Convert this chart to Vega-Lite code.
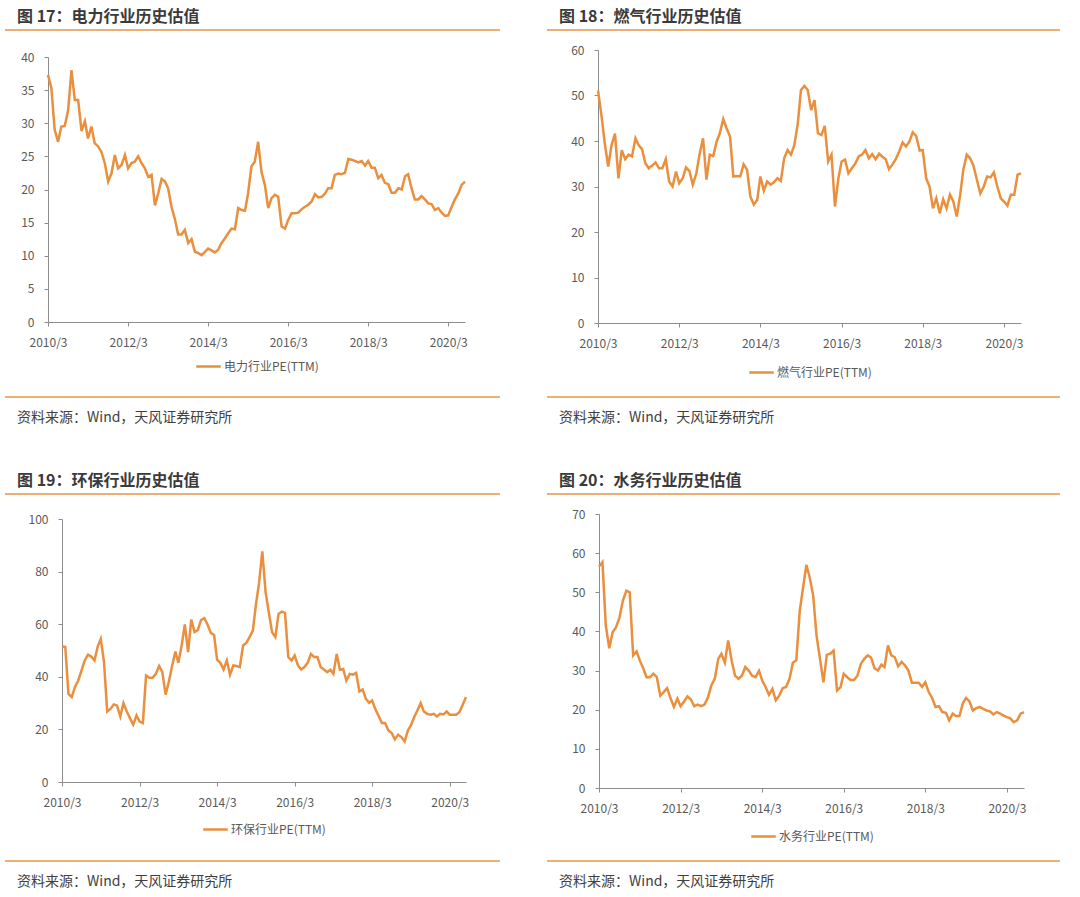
{
"$schema": "https://vega.github.io/schema/vega-lite/v6.json",
"background": "#ffffff",
"padding": {"left": 4, "top": 9, "right": 2, "bottom": 4},
"config": {
 "view": {"stroke": null},
 "font": "Noto Sans CJK SC",
 "axis": {"grid": false, "labelFont": "Noto Sans CJK SC", "labelFontSize": 12, "labelColor": "#595959", "domainColor": "#8c8c8c", "tickColor": "#8c8c8c", "tickSize": 4},
 "legend": {"orient": "bottom", "direction": "horizontal", "symbolType": "stroke", "symbolStrokeWidth": 2.5, "symbolSize": 600, "labelFont": "Noto Sans CJK SC", "labelFontSize": 12, "labelColor": "#595959", "padding": 0, "labelOffset": 2, "layout": {"bottom": {"anchor": "middle"}}},
 "title": {"anchor": "start", "frame": "group", "font": "Noto Sans CJK SC", "color": "#3a3a3a"}
},
"datasets": {
"power": [
{"month":"2010-03","pe":37.3},{"month":"2010-04","pe":35.3},{"month":"2010-05","pe":29.0},{"month":"2010-06","pe":27.2},{"month":"2010-07","pe":29.5},{"month":"2010-08","pe":29.6},{"month":"2010-09","pe":32.0},{"month":"2010-10","pe":38.0},{"month":"2010-11","pe":33.5},{"month":"2010-12","pe":33.5},
{"month":"2011-01","pe":28.8},{"month":"2011-02","pe":30.3},{"month":"2011-03","pe":27.7},{"month":"2011-04","pe":29.5},{"month":"2011-05","pe":27.0},{"month":"2011-06","pe":26.5},{"month":"2011-07","pe":25.7},{"month":"2011-08","pe":24.0},{"month":"2011-09","pe":21.2},{"month":"2011-10","pe":22.4},{"month":"2011-11","pe":25.2},{"month":"2011-12","pe":23.2},
{"month":"2012-01","pe":23.7},{"month":"2012-02","pe":25.2},{"month":"2012-03","pe":23.2},{"month":"2012-04","pe":24.0},{"month":"2012-05","pe":24.2},{"month":"2012-06","pe":25.0},{"month":"2012-07","pe":24.0},{"month":"2012-08","pe":23.2},{"month":"2012-09","pe":21.9},{"month":"2012-10","pe":22.2},{"month":"2012-11","pe":17.6},{"month":"2012-12","pe":19.4},
{"month":"2013-01","pe":21.6},{"month":"2013-02","pe":21.2},{"month":"2013-03","pe":20.2},{"month":"2013-04","pe":17.4},{"month":"2013-05","pe":15.6},{"month":"2013-06","pe":13.2},{"month":"2013-07","pe":13.2},{"month":"2013-08","pe":13.9},{"month":"2013-09","pe":11.9},{"month":"2013-10","pe":12.5},{"month":"2013-11","pe":10.6},{"month":"2013-12","pe":10.4},
{"month":"2014-01","pe":10.1},{"month":"2014-02","pe":10.6},{"month":"2014-03","pe":11.1},{"month":"2014-04","pe":10.8},{"month":"2014-05","pe":10.5},{"month":"2014-06","pe":10.9},{"month":"2014-07","pe":11.9},{"month":"2014-08","pe":12.6},{"month":"2014-09","pe":13.4},{"month":"2014-10","pe":14.1},{"month":"2014-11","pe":14.0},{"month":"2014-12","pe":17.2},
{"month":"2015-01","pe":16.9},{"month":"2015-02","pe":16.8},{"month":"2015-03","pe":19.4},{"month":"2015-04","pe":23.5},{"month":"2015-05","pe":24.2},{"month":"2015-06","pe":27.2},{"month":"2015-07","pe":22.7},{"month":"2015-08","pe":20.7},{"month":"2015-09","pe":17.2},{"month":"2015-10","pe":18.7},{"month":"2015-11","pe":19.2},{"month":"2015-12","pe":18.9},
{"month":"2016-01","pe":14.4},{"month":"2016-02","pe":14.1},{"month":"2016-03","pe":15.4},{"month":"2016-04","pe":16.4},{"month":"2016-05","pe":16.4},{"month":"2016-06","pe":16.5},{"month":"2016-07","pe":17.0},{"month":"2016-08","pe":17.4},{"month":"2016-09","pe":17.7},{"month":"2016-10","pe":18.2},{"month":"2016-11","pe":19.3},{"month":"2016-12","pe":18.8},
{"month":"2017-01","pe":18.9},{"month":"2017-02","pe":19.4},{"month":"2017-03","pe":20.2},{"month":"2017-04","pe":20.2},{"month":"2017-05","pe":22.2},{"month":"2017-06","pe":22.4},{"month":"2017-07","pe":22.3},{"month":"2017-08","pe":22.5},{"month":"2017-09","pe":24.6},{"month":"2017-10","pe":24.5},{"month":"2017-11","pe":24.3},{"month":"2017-12","pe":24.1},
{"month":"2018-01","pe":24.3},{"month":"2018-02","pe":23.6},{"month":"2018-03","pe":24.3},{"month":"2018-04","pe":23.3},{"month":"2018-05","pe":23.3},{"month":"2018-06","pe":21.7},{"month":"2018-07","pe":22.2},{"month":"2018-08","pe":21.0},{"month":"2018-09","pe":20.8},{"month":"2018-10","pe":19.5},{"month":"2018-11","pe":19.5},{"month":"2018-12","pe":20.2},
{"month":"2019-01","pe":20.0},{"month":"2019-02","pe":22.0},{"month":"2019-03","pe":22.3},{"month":"2019-04","pe":20.2},{"month":"2019-05","pe":18.5},{"month":"2019-06","pe":18.5},{"month":"2019-07","pe":19.0},{"month":"2019-08","pe":18.5},{"month":"2019-09","pe":17.9},{"month":"2019-10","pe":17.8},{"month":"2019-11","pe":16.9},{"month":"2019-12","pe":17.2},
{"month":"2020-01","pe":16.5},{"month":"2020-02","pe":16.0},{"month":"2020-03","pe":16.1},{"month":"2020-04","pe":17.4},{"month":"2020-05","pe":18.5},{"month":"2020-06","pe":19.4},{"month":"2020-07","pe":20.7},{"month":"2020-08","pe":21.2}
],
"gas": [
{"month":"2010-03","pe":51.1},{"month":"2010-04","pe":45.7},{"month":"2010-05","pe":39.5},{"month":"2010-06","pe":34.4},{"month":"2010-07","pe":39.1},{"month":"2010-08","pe":41.6},{"month":"2010-09","pe":31.8},{"month":"2010-10","pe":38.0},{"month":"2010-11","pe":36.0},{"month":"2010-12","pe":37.0},
{"month":"2011-01","pe":36.6},{"month":"2011-02","pe":40.6},{"month":"2011-03","pe":39.1},{"month":"2011-04","pe":38.2},{"month":"2011-05","pe":35.1},{"month":"2011-06","pe":34.0},{"month":"2011-07","pe":34.6},{"month":"2011-08","pe":35.3},{"month":"2011-09","pe":34.0},{"month":"2011-10","pe":34.0},{"month":"2011-11","pe":36.0},{"month":"2011-12","pe":31.1},
{"month":"2012-01","pe":30.0},{"month":"2012-02","pe":33.3},{"month":"2012-03","pe":30.7},{"month":"2012-04","pe":31.8},{"month":"2012-05","pe":34.2},{"month":"2012-06","pe":33.4},{"month":"2012-07","pe":30.4},{"month":"2012-08","pe":32.8},{"month":"2012-09","pe":37.2},{"month":"2012-10","pe":40.6},{"month":"2012-11","pe":31.5},{"month":"2012-12","pe":37.0},
{"month":"2013-01","pe":36.7},{"month":"2013-02","pe":39.9},{"month":"2013-03","pe":41.7},{"month":"2013-04","pe":44.8},{"month":"2013-05","pe":42.8},{"month":"2013-06","pe":41.0},{"month":"2013-07","pe":32.2},{"month":"2013-08","pe":32.3},{"month":"2013-09","pe":32.2},{"month":"2013-10","pe":34.9},{"month":"2013-11","pe":33.7},{"month":"2013-12","pe":27.8},
{"month":"2014-01","pe":26.0},{"month":"2014-02","pe":27.1},{"month":"2014-03","pe":32.2},{"month":"2014-04","pe":29.1},{"month":"2014-05","pe":31.1},{"month":"2014-06","pe":30.4},{"month":"2014-07","pe":30.9},{"month":"2014-08","pe":31.8},{"month":"2014-09","pe":31.2},{"month":"2014-10","pe":36.2},{"month":"2014-11","pe":38.0},{"month":"2014-12","pe":37.0},
{"month":"2015-01","pe":39.1},{"month":"2015-02","pe":43.9},{"month":"2015-03","pe":51.2},{"month":"2015-04","pe":52.1},{"month":"2015-05","pe":51.2},{"month":"2015-06","pe":46.8},{"month":"2015-07","pe":49.0},{"month":"2015-08","pe":41.7},{"month":"2015-09","pe":41.3},{"month":"2015-10","pe":43.3},{"month":"2015-11","pe":35.5},{"month":"2015-12","pe":37.0},
{"month":"2016-01","pe":25.6},{"month":"2016-02","pe":31.8},{"month":"2016-03","pe":35.5},{"month":"2016-04","pe":35.9},{"month":"2016-05","pe":32.9},{"month":"2016-06","pe":34.0},{"month":"2016-07","pe":35.0},{"month":"2016-08","pe":36.6},{"month":"2016-09","pe":37.0},{"month":"2016-10","pe":38.0},{"month":"2016-11","pe":36.2},{"month":"2016-12","pe":37.1},
{"month":"2017-01","pe":36.0},{"month":"2017-02","pe":37.2},{"month":"2017-03","pe":36.6},{"month":"2017-04","pe":36.0},{"month":"2017-05","pe":33.8},{"month":"2017-06","pe":34.8},{"month":"2017-07","pe":36.0},{"month":"2017-08","pe":37.7},{"month":"2017-09","pe":39.7},{"month":"2017-10","pe":38.8},{"month":"2017-11","pe":39.9},{"month":"2017-12","pe":41.9},
{"month":"2018-01","pe":41.1},{"month":"2018-02","pe":37.9},{"month":"2018-03","pe":38.0},{"month":"2018-04","pe":31.8},{"month":"2018-05","pe":30.0},{"month":"2018-06","pe":25.2},{"month":"2018-07","pe":27.4},{"month":"2018-08","pe":24.1},{"month":"2018-09","pe":27.2},{"month":"2018-10","pe":25.2},{"month":"2018-11","pe":28.2},{"month":"2018-12","pe":26.7},
{"month":"2019-01","pe":23.4},{"month":"2019-02","pe":28.2},{"month":"2019-03","pe":33.7},{"month":"2019-04","pe":37.0},{"month":"2019-05","pe":36.2},{"month":"2019-06","pe":34.5},{"month":"2019-07","pe":31.5},{"month":"2019-08","pe":28.5},{"month":"2019-09","pe":30.0},{"month":"2019-10","pe":32.2},{"month":"2019-11","pe":32.0},{"month":"2019-12","pe":33.1},
{"month":"2020-01","pe":30.0},{"month":"2020-02","pe":27.4},{"month":"2020-03","pe":26.7},{"month":"2020-04","pe":25.8},{"month":"2020-05","pe":28.2},{"month":"2020-06","pe":28.2},{"month":"2020-07","pe":32.6},{"month":"2020-08","pe":32.9}
],
"env": [
{"month":"2010-03","pe":51.6},{"month":"2010-04","pe":51.3},{"month":"2010-05","pe":33.5},{"month":"2010-06","pe":32.3},{"month":"2010-07","pe":36.1},{"month":"2010-08","pe":38.6},{"month":"2010-09","pe":42.4},{"month":"2010-10","pe":46.2},{"month":"2010-11","pe":48.4},{"month":"2010-12","pe":47.7},
{"month":"2011-01","pe":46.2},{"month":"2011-02","pe":51.6},{"month":"2011-03","pe":54.4},{"month":"2011-04","pe":45.6},{"month":"2011-05","pe":26.8},{"month":"2011-06","pe":27.8},{"month":"2011-07","pe":29.5},{"month":"2011-08","pe":29.1},{"month":"2011-09","pe":24.9},{"month":"2011-10","pe":30.0},{"month":"2011-11","pe":26.8},{"month":"2011-12","pe":24.3},
{"month":"2012-01","pe":21.8},{"month":"2012-02","pe":25.3},{"month":"2012-03","pe":23.0},{"month":"2012-04","pe":22.4},{"month":"2012-05","pe":40.5},{"month":"2012-06","pe":39.6},{"month":"2012-07","pe":39.6},{"month":"2012-08","pe":41.1},{"month":"2012-09","pe":44.1},{"month":"2012-10","pe":41.8},{"month":"2012-11","pe":33.2},{"month":"2012-12","pe":38.0},
{"month":"2013-01","pe":44.1},{"month":"2013-02","pe":49.6},{"month":"2013-03","pe":45.3},{"month":"2013-04","pe":51.9},{"month":"2013-05","pe":59.9},{"month":"2013-06","pe":49.4},{"month":"2013-07","pe":61.8},{"month":"2013-08","pe":57.0},{"month":"2013-09","pe":57.8},{"month":"2013-10","pe":61.6},{"month":"2013-11","pe":62.3},{"month":"2013-12","pe":59.9},
{"month":"2014-01","pe":56.7},{"month":"2014-02","pe":55.9},{"month":"2014-03","pe":46.5},{"month":"2014-04","pe":45.3},{"month":"2014-05","pe":42.8},{"month":"2014-06","pe":46.2},{"month":"2014-07","pe":40.8},{"month":"2014-08","pe":44.3},{"month":"2014-09","pe":44.1},{"month":"2014-10","pe":43.7},{"month":"2014-11","pe":51.9},{"month":"2014-12","pe":52.9},
{"month":"2015-01","pe":55.1},{"month":"2015-02","pe":57.6},{"month":"2015-03","pe":67.1},{"month":"2015-04","pe":75.9},{"month":"2015-05","pe":87.7},{"month":"2015-06","pe":72.2},{"month":"2015-07","pe":64.6},{"month":"2015-08","pe":57.0},{"month":"2015-09","pe":55.1},{"month":"2015-10","pe":63.9},{"month":"2015-11","pe":64.8},{"month":"2015-12","pe":64.3},
{"month":"2016-01","pe":47.5},{"month":"2016-02","pe":46.2},{"month":"2016-03","pe":48.1},{"month":"2016-04","pe":44.3},{"month":"2016-05","pe":42.8},{"month":"2016-06","pe":43.7},{"month":"2016-07","pe":45.3},{"month":"2016-08","pe":48.7},{"month":"2016-09","pe":47.5},{"month":"2016-10","pe":47.5},{"month":"2016-11","pe":43.7},{"month":"2016-12","pe":42.8},
{"month":"2017-01","pe":41.8},{"month":"2017-02","pe":42.7},{"month":"2017-03","pe":41.1},{"month":"2017-04","pe":48.7},{"month":"2017-05","pe":42.7},{"month":"2017-06","pe":43.0},{"month":"2017-07","pe":38.6},{"month":"2017-08","pe":41.1},{"month":"2017-09","pe":40.8},{"month":"2017-10","pe":41.5},{"month":"2017-11","pe":34.4},{"month":"2017-12","pe":35.2},
{"month":"2018-01","pe":31.6},{"month":"2018-02","pe":30.1},{"month":"2018-03","pe":31.0},{"month":"2018-04","pe":27.6},{"month":"2018-05","pe":25.1},{"month":"2018-06","pe":22.4},{"month":"2018-07","pe":22.4},{"month":"2018-08","pe":19.6},{"month":"2018-09","pe":18.6},{"month":"2018-10","pe":16.2},{"month":"2018-11","pe":18.0},{"month":"2018-12","pe":17.1},
{"month":"2019-01","pe":15.4},{"month":"2019-02","pe":19.6},{"month":"2019-03","pe":21.5},{"month":"2019-04","pe":24.7},{"month":"2019-05","pe":27.2},{"month":"2019-06","pe":30.0},{"month":"2019-07","pe":26.8},{"month":"2019-08","pe":25.9},{"month":"2019-09","pe":25.6},{"month":"2019-10","pe":25.9},{"month":"2019-11","pe":24.9},{"month":"2019-12","pe":25.9},
{"month":"2020-01","pe":25.7},{"month":"2020-02","pe":26.8},{"month":"2020-03","pe":25.6},{"month":"2020-04","pe":25.6},{"month":"2020-05","pe":25.6},{"month":"2020-06","pe":26.6},{"month":"2020-07","pe":29.4},{"month":"2020-08","pe":32.3}
],
"water": [
{"month":"2010-03","pe":56.6},{"month":"2010-04","pe":57.7},{"month":"2010-05","pe":41.5},{"month":"2010-06","pe":35.7},{"month":"2010-07","pe":39.8},{"month":"2010-08","pe":41.1},{"month":"2010-09","pe":43.6},{"month":"2010-10","pe":47.9},{"month":"2010-11","pe":50.4},{"month":"2010-12","pe":50.0},
{"month":"2011-01","pe":33.9},{"month":"2011-02","pe":34.9},{"month":"2011-03","pe":32.6},{"month":"2011-04","pe":30.6},{"month":"2011-05","pe":28.3},{"month":"2011-06","pe":28.3},{"month":"2011-07","pe":29.2},{"month":"2011-08","pe":28.3},{"month":"2011-09","pe":23.6},{"month":"2011-10","pe":24.5},{"month":"2011-11","pe":25.5},{"month":"2011-12","pe":23.0},
{"month":"2012-01","pe":20.7},{"month":"2012-02","pe":22.8},{"month":"2012-03","pe":20.9},{"month":"2012-04","pe":22.1},{"month":"2012-05","pe":23.4},{"month":"2012-06","pe":22.6},{"month":"2012-07","pe":20.9},{"month":"2012-08","pe":21.3},{"month":"2012-09","pe":20.9},{"month":"2012-10","pe":21.3},{"month":"2012-11","pe":23.2},{"month":"2012-12","pe":26.2},
{"month":"2013-01","pe":27.9},{"month":"2013-02","pe":33.0},{"month":"2013-03","pe":34.3},{"month":"2013-04","pe":32.0},{"month":"2013-05","pe":37.7},{"month":"2013-06","pe":32.6},{"month":"2013-07","pe":28.7},{"month":"2013-08","pe":27.9},{"month":"2013-09","pe":28.7},{"month":"2013-10","pe":30.9},{"month":"2013-11","pe":30.0},{"month":"2013-12","pe":28.7},
{"month":"2014-01","pe":28.3},{"month":"2014-02","pe":29.9},{"month":"2014-03","pe":27.5},{"month":"2014-04","pe":25.8},{"month":"2014-05","pe":23.8},{"month":"2014-06","pe":25.3},{"month":"2014-07","pe":22.4},{"month":"2014-08","pe":23.6},{"month":"2014-09","pe":25.5},{"month":"2014-10","pe":25.8},{"month":"2014-11","pe":27.9},{"month":"2014-12","pe":32.0},
{"month":"2015-01","pe":32.6},{"month":"2015-02","pe":45.3},{"month":"2015-03","pe":50.9},{"month":"2015-04","pe":57.0},{"month":"2015-05","pe":53.8},{"month":"2015-06","pe":49.2},{"month":"2015-07","pe":39.0},{"month":"2015-08","pe":33.0},{"month":"2015-09","pe":27.0},{"month":"2015-10","pe":34.0},{"month":"2015-11","pe":34.3},{"month":"2015-12","pe":35.1},
{"month":"2016-01","pe":24.9},{"month":"2016-02","pe":25.8},{"month":"2016-03","pe":29.2},{"month":"2016-04","pe":28.3},{"month":"2016-05","pe":27.6},{"month":"2016-06","pe":27.6},{"month":"2016-07","pe":28.7},{"month":"2016-08","pe":31.7},{"month":"2016-09","pe":33.0},{"month":"2016-10","pe":33.9},{"month":"2016-11","pe":33.3},{"month":"2016-12","pe":30.6},
{"month":"2017-01","pe":30.0},{"month":"2017-02","pe":31.5},{"month":"2017-03","pe":30.9},{"month":"2017-04","pe":36.4},{"month":"2017-05","pe":33.9},{"month":"2017-06","pe":33.4},{"month":"2017-07","pe":31.1},{"month":"2017-08","pe":32.2},{"month":"2017-09","pe":31.3},{"month":"2017-10","pe":30.0},{"month":"2017-11","pe":26.9},{"month":"2017-12","pe":26.9},
{"month":"2018-01","pe":26.9},{"month":"2018-02","pe":25.8},{"month":"2018-03","pe":27.0},{"month":"2018-04","pe":24.5},{"month":"2018-05","pe":23.0},{"month":"2018-06","pe":20.7},{"month":"2018-07","pe":20.9},{"month":"2018-08","pe":19.4},{"month":"2018-09","pe":19.2},{"month":"2018-10","pe":17.3},{"month":"2018-11","pe":19.0},{"month":"2018-12","pe":18.4},
{"month":"2019-01","pe":18.4},{"month":"2019-02","pe":21.7},{"month":"2019-03","pe":23.0},{"month":"2019-04","pe":22.1},{"month":"2019-05","pe":19.8},{"month":"2019-06","pe":20.4},{"month":"2019-07","pe":20.7},{"month":"2019-08","pe":20.2},{"month":"2019-09","pe":19.8},{"month":"2019-10","pe":19.6},{"month":"2019-11","pe":18.8},{"month":"2019-12","pe":19.4},
{"month":"2020-01","pe":19.0},{"month":"2020-02","pe":18.5},{"month":"2020-03","pe":18.1},{"month":"2020-04","pe":17.8},{"month":"2020-05","pe":16.8},{"month":"2020-06","pe":17.3},{"month":"2020-07","pe":19.0},{"month":"2020-08","pe":19.4}
]
},
"columns": 2,
"spacing": {"row": 48, "column": 23},
"resolve": {"scale": {"x": "independent", "y": "independent", "color": "independent"}, "legend": {"color": "independent"}},
"concat": [
 {"spacing": 0, "bounds": "flush", "center": true,
  "resolve": {"scale": {"x": "independent", "y": "independent", "color": "independent"}, "legend": {"color": "independent"}},
  "vconcat": [
  {"width": 503, "height": 27, "data": {"values": [{}]},
   "title": {"text": "图 17：电力行业历史估值", "fontSize": 16, "fontWeight": "bold", "dx": 12, "offset": 4},
   "mark": {"type": "rule", "color": "#E9944A", "strokeWidth": 1.3},
   "encoding": {"x": {"datum": 0, "type": "quantitative", "scale": {"domain": [0, 503], "nice": false, "zero": false}, "axis": null}, "x2": {"datum": 495},
                "y": {"datum": 1, "type": "quantitative", "scale": {"domain": [0, 1]}, "axis": null}}},
  {"width": 417, "height": 265, "data": {"name": "power"},
   "mark": {"type": "line", "strokeWidth": 2.5},
   "encoding": {
    "x": {"field": "month", "type": "temporal", "scale": {"type": "utc", "nice": false},
          "axis": {"title": null, "values": [{"year": 2010, "month": 3, "date": 1, "utc": true}, {"year": 2012, "month": 3, "date": 1, "utc": true}, {"year": 2014, "month": 3, "date": 1, "utc": true}, {"year": 2016, "month": 3, "date": 1, "utc": true}, {"year": 2018, "month": 3, "date": 1, "utc": true}, {"year": 2020, "month": 3, "date": 1, "utc": true}],
                   "labelExpr": "utcFormat(datum.value, '%Y/%-m')", "labelPadding": 11, "labelOverlap": false, "labelFlush": false}},
    "y": {"field": "pe", "type": "quantitative", "scale": {"domain": [0, 40], "nice": false},
          "axis": {"title": null, "values": [0, 5, 10, 15, 20, 25, 30, 35, 40], "labelPadding": 10}},
    "color": {"datum": "电力行业PE(TTM)", "scale": {"range": ["#E98F3E"]}, "legend": {"title": null, "offset": 5}}
   }},
  {"width": 503, "height": 75, "data": {"values": [{}]},
   "title": {"text": "资料来源：Wind，天风证券研究所", "orient": "bottom", "fontSize": 14, "fontWeight": "normal", "dx": 12, "offset": 13, "color": "#404040"},
   "mark": {"type": "rule", "color": "#E9944A", "strokeWidth": 1.3},
   "encoding": {"x": {"datum": 0, "type": "quantitative", "scale": {"domain": [0, 503], "nice": false, "zero": false}, "axis": null}, "x2": {"datum": 495},
                "y": {"datum": 0, "type": "quantitative", "scale": {"domain": [0, 1]}, "axis": null}}}
  ]},
 {"spacing": 0, "bounds": "flush", "center": true,
  "resolve": {"scale": {"x": "independent", "y": "independent", "color": "independent"}, "legend": {"color": "independent"}},
  "vconcat": [
  {"width": 525, "height": 20, "data": {"values": [{}]},
   "title": {"text": "图 18：燃气行业历史估值", "fontSize": 16, "fontWeight": "bold", "dx": 12, "offset": 4},
   "mark": {"type": "rule", "color": "#E9944A", "strokeWidth": 1.3},
   "encoding": {"x": {"datum": 0, "type": "quantitative", "scale": {"domain": [0, 525], "nice": false, "zero": false}, "axis": null}, "x2": {"datum": 513},
                "y": {"datum": 1, "type": "quantitative", "scale": {"domain": [0, 1]}, "axis": null}}},
  {"width": 423, "height": 273, "data": {"name": "gas"},
   "mark": {"type": "line", "strokeWidth": 2.5},
   "encoding": {
    "x": {"field": "month", "type": "temporal", "scale": {"type": "utc", "nice": false},
          "axis": {"title": null, "values": [{"year": 2010, "month": 3, "date": 1, "utc": true}, {"year": 2012, "month": 3, "date": 1, "utc": true}, {"year": 2014, "month": 3, "date": 1, "utc": true}, {"year": 2016, "month": 3, "date": 1, "utc": true}, {"year": 2018, "month": 3, "date": 1, "utc": true}, {"year": 2020, "month": 3, "date": 1, "utc": true}],
                   "labelExpr": "utcFormat(datum.value, '%Y/%-m')", "labelPadding": 11, "labelOverlap": false, "labelFlush": false}},
    "y": {"field": "pe", "type": "quantitative", "scale": {"domain": [0, 60], "nice": false},
          "axis": {"title": null, "values": [0, 10, 20, 30, 40, 50, 60], "labelPadding": 10}},
    "color": {"datum": "燃气行业PE(TTM)", "scale": {"range": ["#E98F3E"]}, "legend": {"title": null, "offset": 10}}
   }},
  {"width": 525, "height": 74, "data": {"values": [{}]},
   "title": {"text": "资料来源：Wind，天风证券研究所", "orient": "bottom", "fontSize": 14, "fontWeight": "normal", "dx": 12, "offset": 13, "color": "#404040"},
   "mark": {"type": "rule", "color": "#E9944A", "strokeWidth": 1.3},
   "encoding": {"x": {"datum": 0, "type": "quantitative", "scale": {"domain": [0, 525], "nice": false, "zero": false}, "axis": null}, "x2": {"datum": 513},
                "y": {"datum": 0, "type": "quantitative", "scale": {"domain": [0, 1]}, "axis": null}}}
  ]},
 {"spacing": 0, "bounds": "flush", "center": true,
  "resolve": {"scale": {"x": "independent", "y": "independent", "color": "independent"}, "legend": {"color": "independent"}},
  "vconcat": [
  {"width": 518, "height": 25, "data": {"values": [{}]},
   "title": {"text": "图 19：环保行业历史估值", "fontSize": 16, "fontWeight": "bold", "dx": 12, "offset": 4},
   "mark": {"type": "rule", "color": "#E9944A", "strokeWidth": 1.3},
   "encoding": {"x": {"datum": 0, "type": "quantitative", "scale": {"domain": [0, 518], "nice": false, "zero": false}, "axis": null}, "x2": {"datum": 495},
                "y": {"datum": 1, "type": "quantitative", "scale": {"domain": [0, 1]}, "axis": null}}},
  {"width": 404, "height": 263, "data": {"name": "env"},
   "mark": {"type": "line", "strokeWidth": 2.5},
   "encoding": {
    "x": {"field": "month", "type": "temporal", "scale": {"type": "utc", "nice": false},
          "axis": {"title": null, "values": [{"year": 2010, "month": 3, "date": 1, "utc": true}, {"year": 2012, "month": 3, "date": 1, "utc": true}, {"year": 2014, "month": 3, "date": 1, "utc": true}, {"year": 2016, "month": 3, "date": 1, "utc": true}, {"year": 2018, "month": 3, "date": 1, "utc": true}, {"year": 2020, "month": 3, "date": 1, "utc": true}],
                   "labelExpr": "utcFormat(datum.value, '%Y/%-m')", "labelPadding": 11, "labelOverlap": false, "labelFlush": false}},
    "y": {"field": "pe", "type": "quantitative", "scale": {"domain": [0, 100], "nice": false},
          "axis": {"title": null, "values": [0, 20, 40, 60, 80, 100], "labelPadding": 10}},
    "color": {"datum": "环保行业PE(TTM)", "scale": {"range": ["#E98F3E"]}, "legend": {"title": null, "offset": 8}}
   }},
  {"width": 518, "height": 79, "data": {"values": [{}]},
   "title": {"text": "资料来源：Wind，天风证券研究所", "orient": "bottom", "fontSize": 14, "fontWeight": "normal", "dx": 12, "offset": 13, "color": "#404040"},
   "mark": {"type": "rule", "color": "#E9944A", "strokeWidth": 1.3},
   "encoding": {"x": {"datum": 0, "type": "quantitative", "scale": {"domain": [0, 518], "nice": false, "zero": false}, "axis": null}, "x2": {"datum": 495},
                "y": {"datum": 0, "type": "quantitative", "scale": {"domain": [0, 1]}, "axis": null}}}
  ]},
 {"spacing": 0, "bounds": "flush", "center": true,
  "resolve": {"scale": {"x": "independent", "y": "independent", "color": "independent"}, "legend": {"color": "independent"}},
  "vconcat": [
  {"width": 529, "height": 20, "data": {"values": [{}]},
   "title": {"text": "图 20：水务行业历史估值", "fontSize": 16, "fontWeight": "bold", "dx": 12, "offset": 4},
   "mark": {"type": "rule", "color": "#E9944A", "strokeWidth": 1.3},
   "encoding": {"x": {"datum": 0, "type": "quantitative", "scale": {"domain": [0, 529], "nice": false, "zero": false}, "axis": null}, "x2": {"datum": 513},
                "y": {"datum": 1, "type": "quantitative", "scale": {"domain": [0, 1]}, "axis": null}}},
  {"width": 425, "height": 274, "data": {"name": "water"},
   "mark": {"type": "line", "strokeWidth": 2.5},
   "encoding": {
    "x": {"field": "month", "type": "temporal", "scale": {"type": "utc", "nice": false},
          "axis": {"title": null, "values": [{"year": 2010, "month": 3, "date": 1, "utc": true}, {"year": 2012, "month": 3, "date": 1, "utc": true}, {"year": 2014, "month": 3, "date": 1, "utc": true}, {"year": 2016, "month": 3, "date": 1, "utc": true}, {"year": 2018, "month": 3, "date": 1, "utc": true}, {"year": 2020, "month": 3, "date": 1, "utc": true}],
                   "labelExpr": "utcFormat(datum.value, '%Y/%-m')", "labelPadding": 11, "labelOverlap": false, "labelFlush": false}},
    "y": {"field": "pe", "type": "quantitative", "scale": {"domain": [0, 70], "nice": false},
          "axis": {"title": null, "values": [0, 10, 20, 30, 40, 50, 60, 70], "labelPadding": 10}},
    "color": {"datum": "水务行业PE(TTM)", "scale": {"range": ["#E98F3E"]}, "legend": {"title": null, "offset": 9}}
   }},
  {"width": 529, "height": 73, "data": {"values": [{}]},
   "title": {"text": "资料来源：Wind，天风证券研究所", "orient": "bottom", "fontSize": 14, "fontWeight": "normal", "dx": 12, "offset": 13, "color": "#404040"},
   "mark": {"type": "rule", "color": "#E9944A", "strokeWidth": 1.3},
   "encoding": {"x": {"datum": 0, "type": "quantitative", "scale": {"domain": [0, 529], "nice": false, "zero": false}, "axis": null}, "x2": {"datum": 513},
                "y": {"datum": 0, "type": "quantitative", "scale": {"domain": [0, 1]}, "axis": null}}}
  ]}
]
}
